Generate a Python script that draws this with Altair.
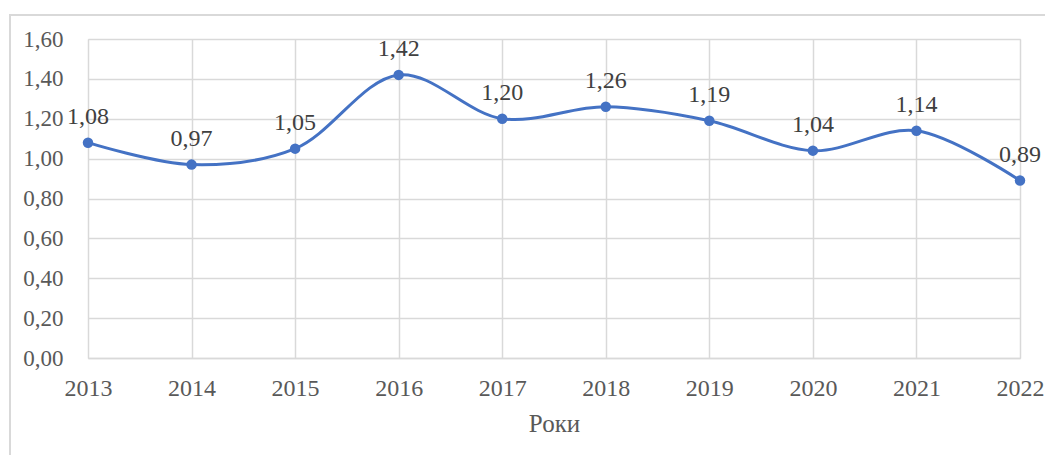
import altair as alt
import pandas as pd

years = ["2013", "2014", "2015", "2016", "2017", "2018", "2019", "2020", "2021", "2022"]
values = [1.08, 0.97, 1.05, 1.42, 1.20, 1.26, 1.19, 1.04, 1.14, 0.89]
y_ticks = [0.0, 0.2, 0.4, 0.6, 0.8, 1.0, 1.2, 1.4, 1.6]

df = pd.DataFrame({"year": years, "value": values})
df["label"] = [f"{v:.2f}".replace(".", ",") for v in values]

FONT = "'Liberation Serif', 'Times New Roman', 'DejaVu Serif', serif"
LINE = "#4472C4"
GRID = "#D9D9D9"

x_enc = alt.X(
    "year:O",
    scale=alt.Scale(type="point", padding=0),
    axis=alt.Axis(
        title="Роки",
        labelAngle=0,
        labelFont=FONT,
        labelFontSize=24,
        labelColor="#595959",
        labelPadding=18,
        ticks=False,
        tickSize=0,
        domain=True,
        domainColor=GRID,
        domainWidth=1.5,
        grid=True,
        gridColor=GRID,
        gridWidth=1.5,
        titleFont=FONT,
        titleFontSize=25,
        titleFontWeight="normal",
        titleColor="#595959",
        titlePadding=11,
    ),
)
y_enc = alt.Y(
    "value:Q",
    scale=alt.Scale(domain=[0, 1.6], nice=False, zero=True),
    axis=alt.Axis(
        title=None,
        values=y_ticks,
        labelExpr="replace(format(datum.value, '.2f'), '.', ',')",
        labelFont=FONT,
        labelFontSize=23,
        labelColor="#595959",
        labelPadding=25,
        ticks=False,
        tickSize=0,
        domain=False,
        grid=True,
        gridColor=GRID,
        gridWidth=1.5,
    ),
)

base = alt.Chart(df).encode(x=x_enc, y=y_enc)

frame = alt.Chart(df).mark_rect(
    filled=False, stroke=GRID, strokeWidth=1.5
).encode(
    x=alt.value(-78), x2=alt.value(1100), y=alt.value(-24), y2=alt.value(500)
)

line = base.mark_line(color=LINE, strokeWidth=3, interpolate="catmull-rom")
points = base.mark_circle(color=LINE, size=110, opacity=1)
labels = base.mark_text(
    font=FONT, fontSize=24, color="#404040", baseline="alphabetic", dy=-19
).encode(text="label:N")

chart = (
    alt.layer(frame, line, points, labels)
    .properties(
        width=932,
        height=319,
        autosize=alt.AutoSizeParams(type="none"),
        padding={"left": 80, "top": 31, "right": 25, "bottom": 100},
    )
    .configure_view(stroke=None)
    .configure(background="white")
)

chart.save("out.html", embed_options={"renderer": "svg", "actions": False})
